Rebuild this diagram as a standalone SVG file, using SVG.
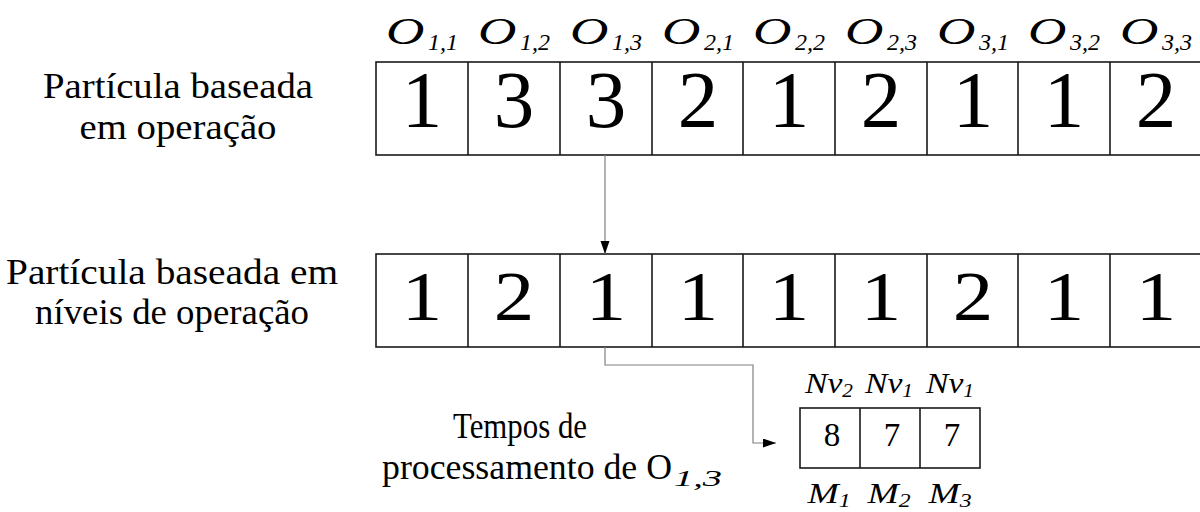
<svg xmlns="http://www.w3.org/2000/svg" width="1200" height="512" viewBox="0 0 1200 512">
<style>
text{font-family:"Liberation Serif","Times New Roman",serif;fill:#000}
.it{font-style:italic}
.box{fill:#fff;stroke:#1a1a1a;stroke-width:1.6}
.div{stroke:#1a1a1a;stroke-width:1.6}
.conn{fill:none;stroke:#808080;stroke-width:1.2}
.lbl{font-size:35px}
.d1{font-size:81px}
.d3{font-size:33px}
.oh{font-size:38px}
.os{font-size:24px}
</style>
<defs>
<marker id="ah" markerUnits="userSpaceOnUse" markerWidth="14" markerHeight="10" refX="13" refY="4.5" orient="auto">
<path d="M0,0 L13,4.5 L0,9 z" fill="#000"/>
</marker>
</defs>
<rect width="1200" height="512" fill="#fff"/>

<g id="label-row1">
<text class="lbl" x="178" y="98" text-anchor="middle" textLength="270" lengthAdjust="spacingAndGlyphs">Partícula baseada</text>
<text class="lbl" x="178" y="139" text-anchor="middle" textLength="197" lengthAdjust="spacingAndGlyphs">em operação</text>
</g>
<g id="label-row2">
<text class="lbl" x="172" y="284" text-anchor="middle" textLength="332" lengthAdjust="spacingAndGlyphs">Partícula baseada em</text>
<text class="lbl" x="172" y="324" text-anchor="middle" textLength="274" lengthAdjust="spacingAndGlyphs">níveis de operação</text>
</g>
<g id="label-times">
<text class="lbl" x="453" y="438" font-size="33" textLength="134" lengthAdjust="spacingAndGlyphs">Tempos de</text>
<text class="lbl" x="382" y="479" font-size="33" textLength="290" lengthAdjust="spacingAndGlyphs">processamento de O</text>
<text class="it" x="674" y="486" font-size="23" textLength="48" lengthAdjust="spacingAndGlyphs">1,3</text>
</g>

<g id="row1">
<rect class="box" x="376" y="62" width="830" height="93"/>
<path class="div" d="M468,62V155M560,62V155M652,62V155M743,62V155M835,62V155M927,62V155M1018,62V155M1110,62V155"/>
<g class="d1" text-anchor="middle">
<text x="422" y="127">1</text>
<text x="514" y="127">3</text>
<text x="606" y="127">3</text>
<text x="698" y="127">2</text>
<text x="789" y="127">1</text>
<text x="881" y="127">2</text>
<text x="973" y="127">1</text>
<text x="1064" y="127">1</text>
<text x="1156" y="127">2</text>
</g>
</g>

<g id="headers">
<g class="it">
<text class="oh" transform="translate(386,44) scale(1.4,1)">O</text><text class="os" x="428" y="50" textLength="30" lengthAdjust="spacingAndGlyphs">1,1</text>
<text class="oh" transform="translate(478,44) scale(1.4,1)">O</text><text class="os" x="520" y="50" textLength="30" lengthAdjust="spacingAndGlyphs">1,2</text>
<text class="oh" transform="translate(570,44) scale(1.4,1)">O</text><text class="os" x="612" y="50" textLength="30" lengthAdjust="spacingAndGlyphs">1,3</text>
<text class="oh" transform="translate(662,44) scale(1.4,1)">O</text><text class="os" x="704" y="50" textLength="30" lengthAdjust="spacingAndGlyphs">2,1</text>
<text class="oh" transform="translate(753,44) scale(1.4,1)">O</text><text class="os" x="795" y="50" textLength="30" lengthAdjust="spacingAndGlyphs">2,2</text>
<text class="oh" transform="translate(845,44) scale(1.4,1)">O</text><text class="os" x="887" y="50" textLength="30" lengthAdjust="spacingAndGlyphs">2,3</text>
<text class="oh" transform="translate(937,44) scale(1.4,1)">O</text><text class="os" x="979" y="50" textLength="30" lengthAdjust="spacingAndGlyphs">3,1</text>
<text class="oh" transform="translate(1028,44) scale(1.4,1)">O</text><text class="os" x="1070" y="50" textLength="30" lengthAdjust="spacingAndGlyphs">3,2</text>
<text class="oh" transform="translate(1120,44) scale(1.4,1)">O</text><text class="os" x="1162" y="50" textLength="30" lengthAdjust="spacingAndGlyphs">3,3</text>
</g>
</g>

<g id="row2">
<rect class="box" x="376" y="254" width="830" height="93"/>
<path class="div" d="M468,254V347M560,254V347M652,254V347M743,254V347M835,254V347M927,254V347M1018,254V347M1110,254V347"/>
<g class="d1" text-anchor="middle">
<text transform="translate(422,320) scale(1,0.87)">1</text>
<text transform="translate(514,320) scale(1,0.87)">2</text>
<text transform="translate(606,320) scale(1,0.87)">1</text>
<text transform="translate(698,320) scale(1,0.87)">1</text>
<text transform="translate(789,320) scale(1,0.87)">1</text>
<text transform="translate(881,320) scale(1,0.87)">1</text>
<text transform="translate(973,320) scale(1,0.87)">2</text>
<text transform="translate(1064,320) scale(1,0.87)">1</text>
<text transform="translate(1156,320) scale(1,0.87)">1</text>
</g>
</g>

<g id="times">
<rect class="box" x="800" y="408" width="180" height="60"/>
<path class="div" d="M860,408V468M920,408V468"/>
<g class="d3" text-anchor="middle">
<text x="832" y="446">8</text>
<text x="892" y="446">7</text>
<text x="952" y="446">7</text>
</g>
<g class="it" text-anchor="middle">
<text transform="translate(829,393) scale(1.12,1)" font-size="30">Nv<tspan font-size="19" dy="4">2</tspan></text>
<text transform="translate(889,393) scale(1.12,1)" font-size="30">Nv<tspan font-size="19" dy="4">1</tspan></text>
<text transform="translate(950,393) scale(1.12,1)" font-size="30">Nv<tspan font-size="19" dy="4">1</tspan></text>
<text transform="translate(829,503) scale(1.25,1)" font-size="30">M<tspan font-size="19" dy="4">1</tspan></text>
<text transform="translate(889,503) scale(1.25,1)" font-size="30">M<tspan font-size="19" dy="4">2</tspan></text>
<text transform="translate(950,503) scale(1.25,1)" font-size="30">M<tspan font-size="19" dy="4">3</tspan></text>
</g>
</g>

<g id="connectors">
<path class="conn" d="M605,155V254" marker-end="url(#ah)"/>
<path class="conn" d="M605,347V365H753V443H776" marker-end="url(#ah)"/>
</g>
</svg>
